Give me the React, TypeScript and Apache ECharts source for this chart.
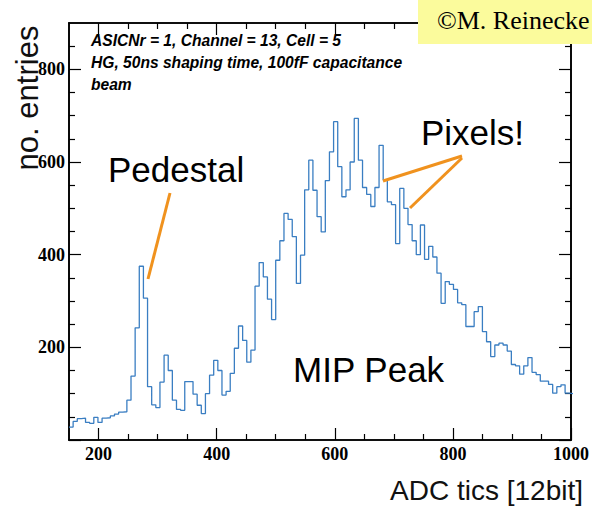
import React, { useEffect, useRef } from "react";
import * as echarts from "echarts";

// Histogram binning (ADC tics)
const binStart = 150;
const binWidth = 7;
// Entries per bin (bin k covers binStart + k*binWidth ...)
const counts = [
  28, 40, 46, 47, 38, 36, 49, 38, 47, 48,
  52, 56, 60, 61, 86, 138, 242, 375, 306, 115,
  76, 70, 125, 183, 150, 86, 66, 64, 126, 126,
  99, 75, 57, 100, 140, 172, 150, 97, 105, 144,
  198, 246, 215, 168, 194, 332, 383, 352, 304, 260,
  388, 430, 489, 476, 439, 338, 399, 540, 604, 539,
  482, 449, 560, 622, 687, 590, 525, 540, 600, 694,
  604, 545, 530, 504, 545, 636, 561, 514, 508, 424,
  543, 500, 465, 430, 400, 464, 390, 418, 395, 360,
  295, 342, 336, 325, 296, 292, 245, 245, 277, 288,
  234, 212, 180, 205, 209, 205, 192, 163, 160, 142,
  160, 178, 146, 141, 127, 127, 120, 101, 115, 119,
  101, 100,
];

const xMajorTicks = [200, 400, 600, 800, 1000];
const xMinorTicks = [250, 300, 350, 450, 500, 550, 650, 700, 750, 850, 900, 950];
const yMajorTicks = [0, 200, 400, 600, 800];
const yLabelTicks = [200, 400, 600, 800];
const yMinorTicks = [50, 100, 150, 250, 300, 350, 450, 500, 550, 650, 700, 750, 850];

const xTitle = "ADC tics [12bit]";
const yTitle = "no. entries";
const infoLines = [
  "ASICNr = 1, Channel = 13, Cell = 5",
  "HG, 50ns shaping time, 100fF capacitance",
  "beam",
];

const AXIS_COLOR = "#000";
const LINE_COLOR = "#3a7ec2";
const ORANGE = "#f0921e";

const labelStyle = {
  show: true,
  color: "#000",
  fontFamily: "Liberation Serif",
  fontWeight: "bold",
  fontSize: 18,
  formatter: (v: number) => String(v),
};

function xAxisDef(position: string, ticks: number[], len: number, withLabels: boolean) {
  return {
    type: "value",
    position,
    min: 150,
    max: 1000,
    axisLine: { show: true, onZero: false, lineStyle: { color: AXIS_COLOR, width: 1.6 } },
    axisTick: {
      show: true,
      inside: true,
      length: len,
      customValues: ticks,
      lineStyle: { color: AXIS_COLOR, width: 1.2 },
    },
    axisLabel: withLabels ? { ...labelStyle, customValues: xMajorTicks, margin: 5 } : { show: false },
    splitLine: { show: false },
  };
}

function yAxisDef(position: string, ticks: number[], len: number, withLabels: boolean) {
  return {
    type: "value",
    position,
    min: 0,
    max: 900,
    axisLine: { show: true, onZero: false, lineStyle: { color: AXIS_COLOR, width: 1.6 } },
    axisTick: {
      show: true,
      inside: true,
      length: len,
      customValues: ticks,
      lineStyle: { color: AXIS_COLOR, width: 1.2 },
    },
    axisLabel: withLabels ? { ...labelStyle, customValues: yLabelTicks, margin: 4 } : { show: false },
    splitLine: { show: false },
  };
}

export default function App() {
  const ref = useRef<HTMLDivElement>(null);

  useEffect(() => {
    if (!ref.current) return;
    const chart = echarts.init(ref.current, null, { renderer: "svg" });

    const points: number[][] = counts.map((c, k) => [binStart + k * binWidth, c]);
    points.push([binStart + counts.length * binWidth, counts[counts.length - 1]]);

    const sans = "Liberation Sans";

    chart.setOption({
      animation: false,
      backgroundColor: "#fff",
      grid: { left: 69, right: 20, top: 23, bottom: 66, containLabel: false },
      xAxis: [
        xAxisDef("bottom", xMajorTicks, 12, true),
        xAxisDef("bottom", xMinorTicks, 6, false),
        xAxisDef("top", xMajorTicks, 12, false),
        xAxisDef("top", xMinorTicks, 6, false),
      ],
      yAxis: [
        yAxisDef("left", yMajorTicks, 12, true),
        yAxisDef("left", yMinorTicks, 6, false),
        yAxisDef("right", yMajorTicks, 12, false),
        yAxisDef("right", yMinorTicks, 6, false),
      ],
      series: [
        {
          type: "line",
          xAxisIndex: 0,
          yAxisIndex: 0,
          step: "end",
          symbol: "none",
          clip: true,
          data: points,
          lineStyle: { color: LINE_COLOR, width: 1.3 },
        },
      ],
      graphic: [
        {
          type: "text",
          x: 27,
          y: 98,
          rotation: Math.PI / 2,
          z: 50,
          style: {
            text: yTitle,
            font: `31px ${sans}`,
            fill: "#111",
            textAlign: "center",
            textVerticalAlign: "middle",
          },
        },
        {
          type: "text",
          x: 583,
          y: 490,
          z: 50,
          style: {
            text: xTitle,
            font: `28px ${sans}`,
            fill: "#111",
            textAlign: "right",
            textVerticalAlign: "middle",
          },
        },
        ...infoLines.map((t, i) => ({
          type: "text",
          x: 91,
          y: 40 + i * 22,
          z: 50,
          style: {
            text: t,
            font: `italic bold 15.6px ${sans}`,
            fill: "#000",
            textAlign: "left",
            textVerticalAlign: "middle",
          },
        })),
        {
          type: "text",
          x: 108,
          y: 169,
          z: 50,
          style: { text: "Pedestal", font: `35px ${sans}`, fill: "#000", textAlign: "left", textVerticalAlign: "middle" },
        },
        {
          type: "text",
          x: 293,
          y: 369,
          z: 50,
          style: { text: "MIP Peak", font: `35px ${sans}`, fill: "#000", textAlign: "left", textVerticalAlign: "middle" },
        },
        {
          type: "text",
          x: 421,
          y: 132,
          z: 50,
          style: { text: "Pixels!", font: `35px ${sans}`, fill: "#000", textAlign: "left", textVerticalAlign: "middle" },
        },
        {
          type: "line",
          z: 60,
          shape: { x1: 170, y1: 193, x2: 148, y2: 279 },
          style: { stroke: ORANGE, lineWidth: 3 },
        },
        {
          type: "line",
          z: 60,
          shape: { x1: 462, y1: 156, x2: 383, y2: 181 },
          style: { stroke: ORANGE, lineWidth: 3 },
        },
        {
          type: "line",
          z: 60,
          shape: { x1: 462, y1: 158, x2: 410, y2: 208 },
          style: { stroke: ORANGE, lineWidth: 3 },
        },
        {
          type: "rect",
          z: 100,
          shape: { x: 418, y: 0, width: 180, height: 44 },
          style: { fill: "#fbfb9c" },
        },
        {
          type: "text",
          x: 437,
          y: 20,
          z: 101,
          style: {
            text: "©M. Reinecke",
            font: `26px Liberation Serif`,
            fill: "#000",
            textAlign: "left",
            textVerticalAlign: "middle",
          },
        },
      ],
    });

    return () => chart.dispose();
  }, []);

  return (
    <div
      ref={ref}
      style={{ position: "fixed", left: 0, top: 0, width: 592, height: 506, background: "#fff" }}
    />
  );
}
